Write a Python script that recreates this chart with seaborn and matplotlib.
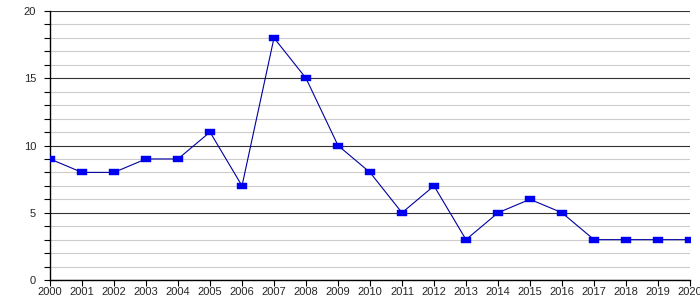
import matplotlib
matplotlib.use("Agg")
import matplotlib.pyplot as plt
import seaborn as sns
import pandas as pd
from matplotlib.ticker import MultipleLocator

years = list(range(2000, 2021))
values = [9, 8, 8, 9, 9, 11, 7, 18, 15, 10, 8, 5, 7, 3, 5, 6, 5, 3, 3, 3, 3]
tick_labels = [str(y) for y in years]

sns.set_style("white")
plt.rcParams['font.family'] = ['Liberation Sans', 'DejaVu Sans']

df = pd.DataFrame({"year": years, "value": values})

fig = plt.figure(figsize=(7, 3), dpi=100)
ax = fig.add_axes([50/700, 20/300, 640/700, 269/300])

rect = [(-1, -0.65), (1, -0.65), (1, 0.65), (-1, 0.65), (-1, -0.65)]
sns.lineplot(data=df, x="year", y="value", ax=ax, color="#0000a0", linewidth=0.8,
             marker=rect, markersize=7.4, markerfacecolor="#0000f0",
             markeredgecolor="#0000f0", markeredgewidth=0.3, zorder=5)

ax.set_xlim(2000, 2020)
ax.set_ylim(0, 20)
ax.yaxis.set_major_locator(MultipleLocator(5))
ax.yaxis.set_minor_locator(MultipleLocator(1))
ax.set_xticks(years)
ax.set_xticklabels(tick_labels)
ax.grid(axis="y", which="minor", color="#cccccc", linewidth=0.8)
ax.grid(axis="y", which="major", color="#333333", linewidth=0.8)
ax.grid(axis="x", visible=False)
ax.set_axisbelow(True)
for s in ["top", "right"]:
    ax.spines[s].set_visible(False)
ax.spines["left"].set_color("black")
ax.spines["bottom"].set_color("black")
ax.spines["left"].set_linewidth(1)
ax.spines["bottom"].set_linewidth(1)
ax.tick_params(axis="y", which="both", direction="out", length=4, width=0.8,
               left=True, labelsize=8, pad=6, color="black")
ax.tick_params(axis="x", direction="out", length=4, width=0.8, bottom=True,
               labelsize=8, pad=1, color="black")
ax.set_xlabel("")
ax.set_ylabel("")
for lbl in ax.get_xticklabels():
    lbl.set_clip_on(False)

fig.savefig("out.png", dpi=100)
